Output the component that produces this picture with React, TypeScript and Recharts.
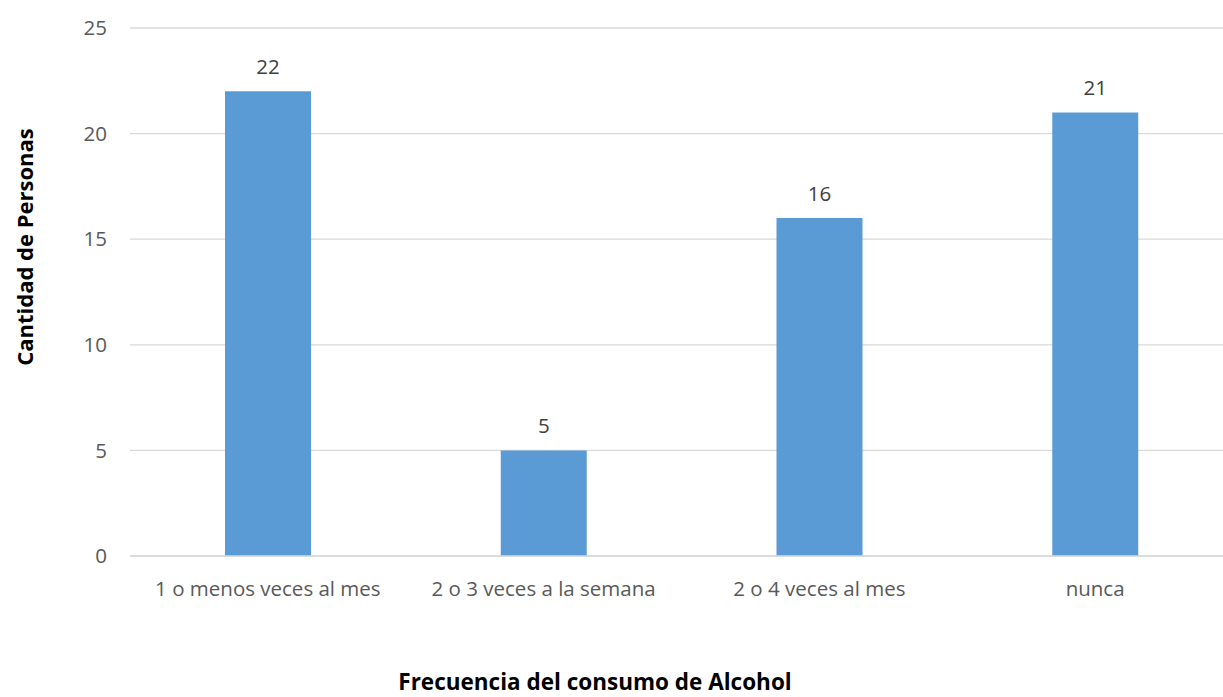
import React from 'react';
import { BarChart, Bar, XAxis, YAxis, CartesianGrid, LabelList } from 'recharts';

// Frecuencia del consumo de alcohol
const categories = ['1 o menos veces al mes', '2 o 3 veces a la semana', '2 o 4 veces al mes', 'nunca'];
const personas = [22, 5, 16, 21];
const yTicks = [0, 5, 10, 15, 20, 25];

const chartData = categories.map((categoria, i) => ({ categoria, personas: personas[i] }));

const FONT = '"Open Sans", sans-serif';

export default function App() {
  return (
    <div style={{ position: 'absolute', left: 0, top: 0, width: 1223, height: 697, overflow: 'hidden', background: '#fff', fontFamily: FONT }}>
      <BarChart
        width={1240}
        height={697}
        data={chartData}
        margin={{ top: 28, right: 7, left: 0, bottom: 81 }}
        barSize={86}
      >
        <CartesianGrid horizontal vertical={false} stroke="#d9d9d9" strokeWidth={1.3} />
        <XAxis
          dataKey="categoria"
          height={60}
          axisLine={{ stroke: '#d9d9d9', strokeWidth: 1.3 }}
          tickLine={false}
          tickMargin={19}
          interval={0}
          tick={{ fontSize: 20.5, fill: '#595959', fontFamily: FONT }}
        />
        <YAxis
          width={130}
          domain={[0, 25]}
          ticks={yTicks}
          axisLine={false}
          tickLine={false}
          tickMargin={17}
          tick={{ fontSize: 20.5, fill: '#595959', fontFamily: FONT }}
        />
        <Bar dataKey="personas" fill="#5b9bd5" isAnimationActive={false}>
          <LabelList dataKey="personas" position="top" offset={17} fill="#404040" fontSize={20.5} fontFamily={FONT} />
        </Bar>
      </BarChart>
      {/* axis titles */}
      <svg width={1223} height={697} style={{ position: 'absolute', left: 0, top: 0, pointerEvents: 'none' }}>
        <text
          x={33}
          y={247}
          transform="rotate(-90 33 247)"
          textAnchor="middle"
          fontFamily={FONT}
          fontWeight={700}
          fontSize={22}
          fill="#000"
        >
          Cantidad de Personas
        </text>
        <text x={595} y={690} textAnchor="middle" fontFamily={FONT} fontWeight={700} fontSize={22.5} fill="#000">
          Frecuencia del consumo de Alcohol
        </text>
      </svg>
    </div>
  );
}
